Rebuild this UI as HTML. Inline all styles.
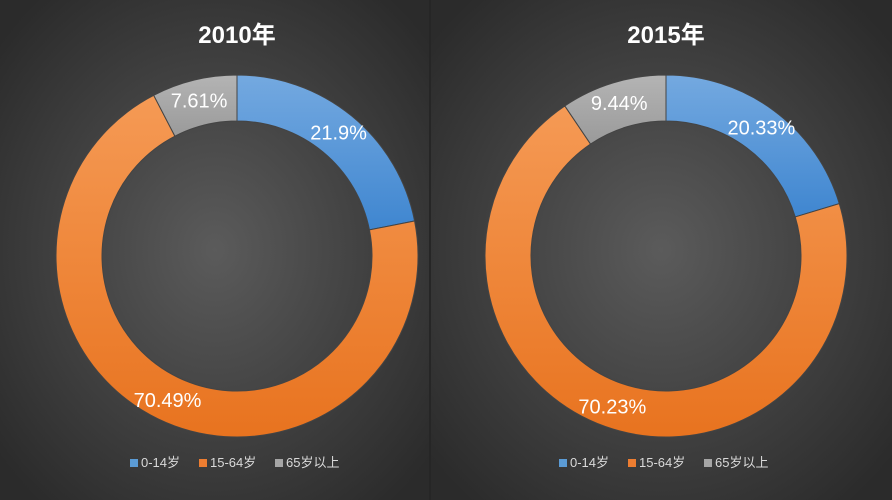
<!DOCTYPE html>
<html><head><meta charset="utf-8"><style>
body{margin:0;background:#333}
svg{display:block}
</style></head><body>
<svg id="c" width="892" height="500" xmlns="http://www.w3.org/2000/svg">
<defs>
<radialGradient id="bg" cx="50%" cy="50%" r="65%"><stop offset="0" stop-color="#5b5b5b"/><stop offset="1" stop-color="#2b2b2b"/></radialGradient>
<linearGradient id="gb" x1="0" y1="0" x2="0" y2="1"><stop offset="0" stop-color="#74a9e0"/><stop offset="1" stop-color="#3f86d0"/></linearGradient>
<linearGradient id="go" x1="0" y1="0" x2="0" y2="1"><stop offset="0" stop-color="#f59a55"/><stop offset="1" stop-color="#e8731f"/></linearGradient>
<linearGradient id="gg" x1="0" y1="0" x2="0" y2="1"><stop offset="0" stop-color="#b4b4b4"/><stop offset="1" stop-color="#9a9a9a"/></linearGradient>
</defs>
<rect x="0" y="0" width="430" height="500" fill="url(#bg)"/>
<rect x="430" y="0" width="462" height="500" fill="url(#bg)"/>
<line x1="430" y1="0" x2="430" y2="500" stroke="#262626" stroke-width="2"/>
</svg>
<script>
const categories = ["0-14岁","15-64岁","65岁以上"];
const years = ["2010年","2015年"];
const values2010 = [21.9, 70.49, 7.61];
const values2015 = [20.33, 70.23, 9.44];
const fills = ["url(#gb)","url(#go)","url(#gg)"];
const legendColors = ["#5b9bd5","#ed7d31","#a5a5a5"];
const svg = document.getElementById('c');
const NS = "http://www.w3.org/2000/svg";
function mk(tag, attrs){const e=document.createElementNS(NS,tag);for(const k in attrs)e.setAttribute(k,attrs[k]);svg.appendChild(e);return e;}
function pt(cx,cy,r,a){return [cx+r*Math.sin(a), cy-r*Math.cos(a)];}
function drawDonut(title, vals, cx, cy, tag){
  const R=181, r=135;
  const t=mk('text',{x:cx,y:43,'text-anchor':'middle','font-size':'24','font-weight':'bold',fill:'#fff','font-family':'"Liberation Sans","Noto Sans CJK SC",sans-serif'});
  t.textContent=title;
  
  
  const total=vals.reduce((a,b)=>a+b,0);
  let acc=0;
  vals.forEach((v,i)=>{
    const a0=acc/total*2*Math.PI; acc+=v; const a1=acc/total*2*Math.PI;
    const large=(a1-a0)>Math.PI?1:0;
    const [x0,y0]=pt(cx,cy,R,a0),[x1,y1]=pt(cx,cy,R,a1),[x2,y2]=pt(cx,cy,r,a1),[x3,y3]=pt(cx,cy,r,a0);
    const p=mk('path',{d:`M${x0},${y0}A${R},${R} 0 ${large} 1 ${x1},${y1}L${x2},${y2}A${r},${r} 0 ${large} 0 ${x3},${y3}Z`,fill:fills[i],stroke:'#444','stroke-width':'1'});
    
    
    const am=(a0+a1)/2; const [lx,ly]=pt(cx,cy,160,am);
    const l=mk('text',{x:lx,y:ly+7,'text-anchor':'middle','font-size':'20',fill:'#fff','font-family':'"Liberation Sans",sans-serif'});
    l.textContent=v+'%';
    
    
  });
  const lxs=[-107,-38,38];
  categories.forEach((c,i)=>{
    const x=cx+lxs[i], y=467;
    const s=mk('rect',{x:x,y:y-8,width:8,height:8,fill:legendColors[i]});
    
    
    const tx=mk('text',{x:x+11,y:y,'font-size':'13',fill:'#d9d9d9','font-family':'"Liberation Sans","Noto Sans CJK SC",sans-serif'});
    tx.textContent=c;
    
    
  });
}
drawDonut(years[0], values2010, 237, 256, '2010');
drawDonut(years[1], values2015, 666, 256, '2015');
</script>
</body></html>
